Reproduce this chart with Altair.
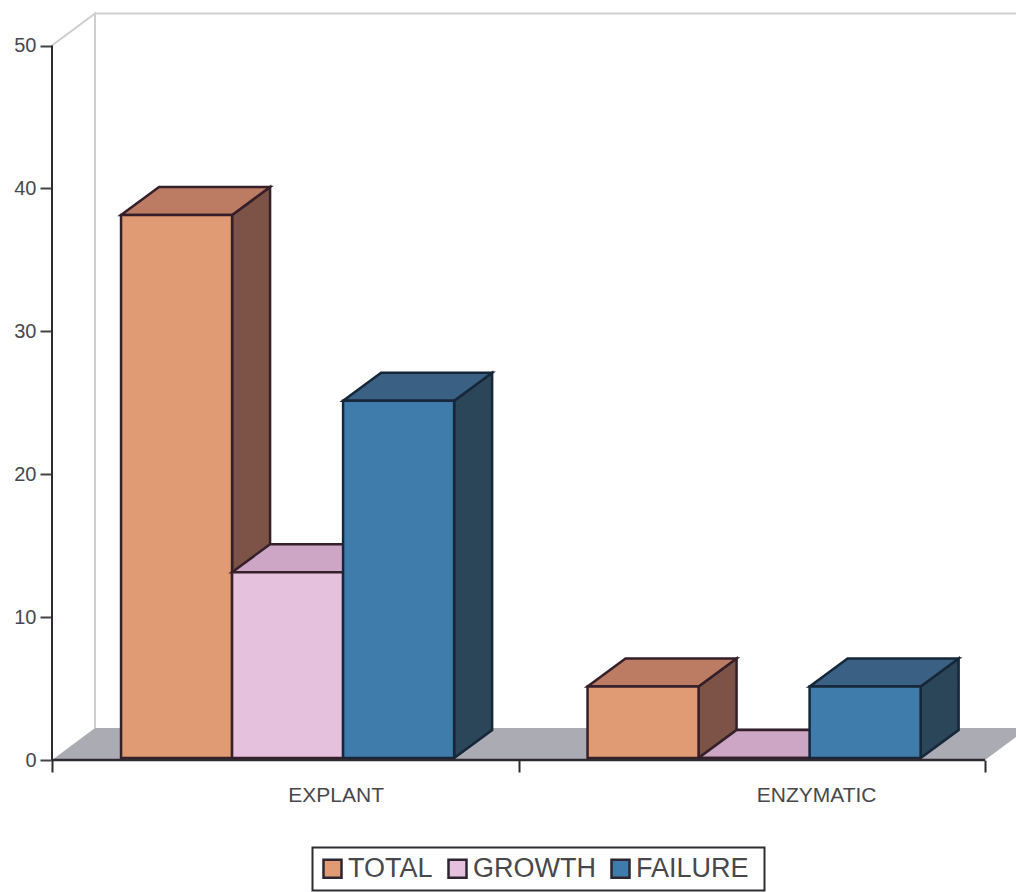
import altair as alt
import pandas as pd

# Cultures per isolation method
categories = ["EXPLANT", "ENZYMATIC"]
series_names = ["TOTAL", "GROWTH", "FAILURE"]
total = [38, 5]
growth = [13, 0]
failure = [25, 5]
series_values = [total, growth, failure]

front_colors = ["#E09A74", "#E6C1DD", "#3F7CAB"]
top_colors = ["#BC7B63", "#CDA6C6", "#3A6183"]
side_colors = ["#7E5347", "#A98AA6", "#2C4659"]
edge_colors = ["#35202A", "#35202A", "#16273A"]

# Scale: one x unit is one category, y units are the plotted counts
PX_PER_CAT = 466.5
PX_PER_UNIT = 14.29
PLOT_W = 964
PLOT_H = 760
GROUP_START = 0.148
BAR_W = 0.238
DEPTH_X = 38 / PX_PER_CAT
DEPTH_Y = 28 / PX_PER_UNIT
WALL_X = 43 / PX_PER_CAT
WALL_Y = 32 / PX_PER_UNIT
BAR_LIFT = 2 / PX_PER_UNIT  # bars stand on the axis line, not under it
Y_MAX = 50
X_MAX = 2
label_centres = [0.609, 1.639]

WALL = "#CFCFCF"
AXIS = "#2E2A30"

x_scale = alt.Scale(domain=[0, PLOT_W / PX_PER_CAT], nice=False, zero=False)
y_scale = alt.Scale(domain=[0, PLOT_H / PX_PER_UNIT], nice=False, zero=False)
x_axis = alt.Axis(values=[0, 1, 2], labels=False, grid=False, domain=False,
                  tickSize=12, tickWidth=2, tickColor=AXIS, title=None)
y_axis = alt.Axis(values=[0, 10, 20, 30, 40, 50], grid=False, domain=False,
                  tickSize=12, tickWidth=2, tickColor="#444448", labelPadding=4,
                  labelFont="Liberation Sans", labelFontSize=20,
                  labelColor="#48484C", format="d", title=None)
X = alt.X("x:Q", scale=x_scale, axis=x_axis)
Y = alt.Y("y:Q", scale=y_scale, axis=y_axis)

# Grey floor, drawn as a sheared band behind the bars
floor = alt.Chart(pd.DataFrame({
    "x": [0, WALL_X], "x2": [X_MAX, X_MAX + WALL_X], "y": [0, WALL_Y],
})).mark_area(orient="horizontal", color="#ABABB3", clip=True).encode(
    x=X, x2="x2:Q", y=Y)

# Back wall outline: receding corner, left edge and top edge
wall_line = alt.Chart(pd.DataFrame({
    "x": [0, WALL_X, WALL_X, WALL_X, PLOT_W / PX_PER_CAT],
    "y": [Y_MAX, Y_MAX + WALL_Y, WALL_Y, Y_MAX + WALL_Y, Y_MAX + WALL_Y],
    "o": [0, 1, 2, 3, 4],
})).mark_line(color=WALL, strokeWidth=2, clip=True).encode(x=X, y=Y, order="o:Q")

layers = [floor, wall_line]

# Each series: side face, top face, front face, painted back to front
for s, name in enumerate(series_names):
    side_rows, top_rows, front_rows = [], [], []
    for c, value in enumerate(series_values[s]):
        left = c + GROUP_START + s * BAR_W
        right = left + BAR_W
        level = value + BAR_LIFT
        side_rows += [
            {"bar": c, "x": right, "y": level, "y2": BAR_LIFT},
            {"bar": c, "x": right + DEPTH_X, "y": level + DEPTH_Y, "y2": BAR_LIFT + DEPTH_Y},
        ]
        top_rows += [
            {"bar": c, "x": left, "x2": right, "y": level},
            {"bar": c, "x": left + DEPTH_X, "x2": right + DEPTH_X, "y": level + DEPTH_Y},
        ]
        front_rows.append({"x": left, "x2": right, "y": level, "y2": BAR_LIFT, "series": name})
    edge = dict(stroke=edge_colors[s], strokeWidth=2.5, strokeJoin="miter")
    layers.append(alt.Chart(pd.DataFrame(side_rows)).mark_area(
        orient="vertical", color=side_colors[s], **edge).encode(
        x=X, y=Y, y2="y2:Q", detail="bar:N"))
    layers.append(alt.Chart(pd.DataFrame(top_rows)).mark_area(
        orient="horizontal", color=top_colors[s], **edge).encode(
        x=X, x2="x2:Q", y=Y, detail="bar:N"))
    layers.append(alt.Chart(pd.DataFrame(front_rows)).mark_bar(**edge).encode(
        x=X, x2="x2:Q", y=Y, y2="y2:Q",
        fill=alt.Fill("series:N",
                      scale=alt.Scale(domain=series_names, range=front_colors),
                      legend=alt.Legend(
                          title=None, orient="none", direction="horizontal", columns=3,
                          legendX=261, legendY=849, padding=6, columnPadding=10,
                          symbolType="square", symbolSize=324,
                          symbolStrokeColor="#2D2530", symbolStrokeWidth=2.5,
                          labelFont="Liberation Sans", labelFontSize=27,
                          labelColor="#48484C", labelOffset=2,
                          labelLimit=300,
                      ))))

# Axis lines
layers.append(alt.Chart(pd.DataFrame({"x": [0], "y": [0], "y2": [Y_MAX]})).mark_rule(
    color=AXIS, strokeWidth=2).encode(x=X, y=Y, y2="y2:Q"))
layers.append(alt.Chart(pd.DataFrame({"x": [0], "x2": [X_MAX], "y": [0]})).mark_rule(
    color=AXIS, strokeWidth=2.5).encode(x=X, x2="x2:Q", y=Y))

# Category labels sit under the axis
layers.append(alt.Chart(pd.DataFrame({"x": label_centres, "label": categories})).mark_text(
    font="Liberation Sans", fontSize=21, color="#48484C", baseline="middle", align="center",
).encode(x=X, y=alt.value(796), text="label:N"))

# Frame around the legend
layers.append(alt.Chart(pd.DataFrame({"k": [0]})).mark_rect(
    fillOpacity=0, stroke="#2E2E32", strokeWidth=2, clip=False,
).encode(x=alt.value(260.5), x2=alt.value(712.5), y=alt.value(847.5), y2=alt.value(890.5)))

chart = alt.layer(*layers).resolve_scale(x="shared", y="shared").properties(
    width=PLOT_W, height=PLOT_H, background="#FFFFFF",
    padding={"left": 52, "top": 0, "right": 0, "bottom": 132},
    autosize=alt.AutoSizeParams(type="none"),
).configure_view(stroke=None)

chart.save("out.html", embed_options={"renderer": "svg", "actions": False})
